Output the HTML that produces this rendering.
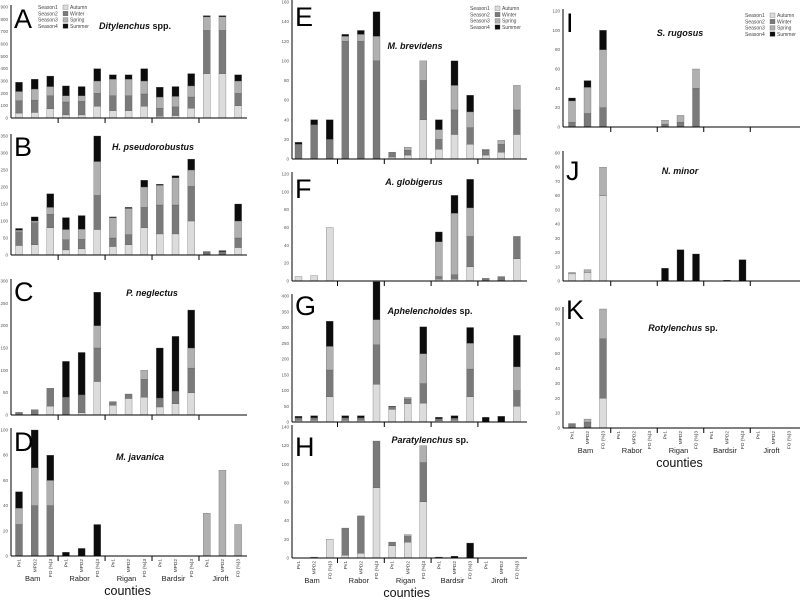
<!DOCTYPE html>
<html><head><meta charset="utf-8"><style>
html,body{margin:0;padding:0;background:#fff;}
svg{display:block;font-family:"Liberation Sans",sans-serif;}
</style></head><body>
<svg id="chart" width="800" height="600" viewBox="0 0 800 600"></svg>
<script>
// ---- data: each bar = [Autumn, Winter, Spring, Summer] ----
const counties = ["Bam","Rabor","Rigan","Bardsir","Jiroft"];
const barLabels = ["Pv1","MPD2","FO (%)3"];
const seasons = ["Autumn","Winter","Spring","Summer"];
const dataA = [[40,100,75,75],[45,100,90,80],[75,105,75,85],[25,105,50,80],[25,110,45,75],[95,105,100,100],[60,120,135,35],[60,120,135,35],[95,100,105,100],[15,65,90,80],[20,70,85,80],[80,90,90,100],[360,350,110,10],[360,350,110,10],[100,100,100,50]];
const dataB = [[28,40,5,5],[30,65,5,12],[80,40,20,40],[15,30,30,35],[18,28,30,40],[75,100,100,75],[25,25,60,2],[30,30,77,3],[80,60,60,20],[62,85,58,3],[62,85,80,6],[100,102,48,32],[0,6,2,2],[0,8,2,3],[22,28,50,50]];
const dataC = [[0,6,0,0],[0,12,0,0],[20,40,0,0],[0,40,0,80],[5,40,0,95],[75,75,50,75],[22,8,0,0],[37,10,0,0],[40,40,20,0],[18,20,0,112],[25,28,0,123],[50,55,45,85],[0,0,0,0],[0,0,0,0],[0,0,0,0]];
const dataD = [[0,25,13,13],[0,40,30,30],[0,40,20,20],[0,0,0,3],[0,0,0,6],[0,0,0,25],[0,0,0,0],[0,0,0,0],[0,0,0,0],[0,0,0,0],[0,0,0,0],[0,0,0,0],[0,0,34,0],[0,0,68,0],[0,0,25,0]];
const dataE = [[0,15,0,2],[0,35,0,5],[0,20,0,20],[0,120,5,2],[0,120,7,4],[0,100,25,25],[2,5,0,0],[4,5,3,0],[40,40,20,0],[10,10,10,10],[25,25,25,25],[15,17,16,17],[4,5,1,0],[7,8,4,0],[25,25,25,0]];
const dataF = [[5,0,0,0],[6,0,0,0],[60,0,0,0],[0,0,0,0],[0,0,0,0],[0,0,0,0],[0,0,0,0],[0,0,0,0],[0,0,0,0],[2,3,39,11],[2,5,69,20],[16,34,32,32],[0,3,0,0],[0,5,0,0],[25,25,0,0]];
const dataG = [[5,8,0,5],[5,8,0,7],[80,85,75,80],[5,8,0,7],[5,8,0,7],[120,125,80,120],[40,8,0,2],[58,15,5,0],[60,62,95,85],[4,6,0,5],[5,7,0,8],[80,88,82,50],[0,0,0,15],[0,0,0,18],[50,50,75,100]];
const dataH = [[0,0,0,0],[0,1,0,0],[20,0,0,0],[3,29,0,0],[5,40,0,0],[75,50,0,0],[13,4,0,0],[17,6,2,0],[60,42,18,0],[0,0,0,1],[0,0,0,2],[0,0,0,16],[0,0,0,0],[0,0,0,0],[0,0,0,0]];
const dataI = [[0,5,22,3],[0,14,27,7],[0,20,60,20],[0,0,0,0],[0,0,0,0],[0,0,0,0],[0,3,4,0],[0,5,7,0],[0,40,20,0],[0,0,0,0],[0,0,0,0],[0,0,0,0],[0,0,0,0],[0,0,0,0],[0,0,0,0]];
const dataJ = [[5,0,1,0],[6,0,2,0],[60,0,20,0],[0,0,0,0],[0,0,0,0],[0,0,0,0],[0,0,0,9],[0,0,0,22],[0,0,0,19],[0,0,0,0],[0,0,0,0.6],[0,0,0,15],[0,0,0,0],[0,0,0,0],[0,0,0,0]];
const dataK = [[0,3,0,0],[0,4,2,0],[20,40,20,0],[0,0,0,0],[0,0,0,0],[0,0,0,0],[0,0,0,0],[0,0,0,0],[0,0,0,0],[0,0,0,0],[0,0,0,0],[0,0,0,0],[0,0,0,0],[0,0,0,0],[0,0,0,0]];

const colors = ["#dcdcdc","#7a7a7a","#b0b0b0","#0c0c0c"];
const NS = "http://www.w3.org/2000/svg";
const svg = document.getElementById("chart");
function mk(tag, attrs, parent, text){
  const e = document.createElementNS(NS, tag);
  for (const k in attrs) e.setAttribute(k, attrs[k]);
  if (text !== undefined) e.textContent = text;
  (parent || svg).appendChild(e);
  return e;
}
const cols = {
  L:{ax:11, axEnd:247, first:19, step:15.65},
  M:{ax:292, axEnd:527, first:298.5, step:15.6},
  R:{ax:563, axEnd:800, first:572, step:15.5}
};
const panels = [
  {id:"a",letter:"A",col:"L",data:dataA,base:118,max:900,topY:7,tick:100,title:["Ditylenchus"," spp."],tx:135,ty:29,legend:[38,5],lx:14,ly:6},
  {id:"b",letter:"B",col:"L",data:dataB,base:255,max:350,topY:136,tick:50,title:["H. pseudorobustus",""],tx:153,ty:150,lx:14,ly:134},
  {id:"c",letter:"C",col:"L",data:dataC,base:415,max:300,topY:281,tick:50,title:["P. neglectus",""],tx:152,ty:296,lx:14,ly:279},
  {id:"d",letter:"D",col:"L",data:dataD,base:556,max:100,topY:430,tick:20,title:["M. javanica",""],tx:140,ty:460,lx:14,ly:429,xlab:true},
  {id:"e",letter:"E",col:"M",data:dataE,base:159,max:160,topY:2,tick:20,title:["M. brevidens",""],tx:415,ty:49,legend:[470,6],lx:295,ly:4},
  {id:"f",letter:"F",col:"M",data:dataF,base:281,max:120,topY:174,tick:20,title:["A. globigerus",""],tx:414,ty:185,lx:295,ly:176},
  {id:"g",letter:"G",col:"M",data:dataG,base:422,max:400,topY:296,tick:50,title:["Aphelenchoides"," sp."],tx:430,ty:314,lx:295,ly:293},
  {id:"h",letter:"H",col:"M",data:dataH,base:558,max:140,topY:427,tick:20,title:["Paratylenchus"," sp."],tx:430,ty:443,lx:295,ly:434,xlab:true},
  {id:"i",letter:"I",col:"R",data:dataI,base:127,max:120,topY:11,tick:20,title:["S. rugosus",""],tx:680,ty:36,legend:[745,13],lx:566,ly:10},
  {id:"j",letter:"J",col:"R",data:dataJ,base:281,max:90,topY:153,tick:10,title:["N. minor",""],tx:680,ty:174,lx:566,ly:158},
  {id:"k",letter:"K",col:"R",data:dataK,base:428,max:80,topY:309,tick:10,title:["Rotylenchus"," sp."],tx:683,ty:331,lx:566,ly:297,xlab:true}
];

panels.forEach(p=>{
  const c = cols[p.col];
  const g = mk("g",{});
  
  
  const ys = v => p.base - v*(p.base - p.topY)/p.max;
  const xs = i => c.first + i*c.step;
  // y ticks
  for (let v=0; v<=p.max+0.001; v+=p.tick){
    const t = mk("text",{x:c.ax-3,y:ys(v)+1.5,"font-size":4.5,"text-anchor":"end",fill:"#555"},g,String(v));
    
    
  }
  // bars
  p.data.forEach((bar,i)=>{
    let acc = 0;
    bar.forEach((v,s)=>{
      if (v<=0) return;
      const r = mk("rect",{x:xs(i)-3.5,y:ys(acc+v),width:7,height:ys(acc)-ys(acc+v),fill:colors[s],stroke:"#555","stroke-width":0.3},g);
      
      
      acc += v;
    });
  });
  // axes
  const ya = mk("line",{x1:c.ax,y1:p.topY-2,x2:c.ax,y2:p.base,stroke:"#000","stroke-width":1},g);
  
  
  const xa = mk("line",{x1:c.ax,y1:p.base,x2:c.axEnd,y2:p.base,stroke:"#000","stroke-width":1},g);
  
  
  for (let k=1;k<5;k++){
    const gx = xs(3*k-0.5);
    const tk = mk("line",{x1:gx,y1:p.base,x2:gx,y2:p.base+5,stroke:"#000","stroke-width":1},g);
    
    
  }
  // letter
  const L = mk("text",{x:p.lx,y:p.ly+22,"font-size":27,fill:"#000"},g,p.letter);
  
  
  // title
  const T = mk("text",{x:p.tx,y:p.ty,"font-size":9,"font-weight":"bold","text-anchor":"middle",fill:"#111"},g);
  
  
  mk("tspan",{"font-style":"italic"},T,p.title[0]);
  if (p.title[1]) mk("tspan",{},T,p.title[1]);
  // legend
  if (p.legend){
    const [lx,ly] = p.legend;
    seasons.forEach((s,si)=>{
      const y = ly + si*6.3;
      const t1 = mk("text",{x:lx,y:y+4,"font-size":5,fill:"#444"},g,"Season"+(si+1));
      
      
      const sw = mk("rect",{x:lx+25,y:y,width:5,height:4.5,fill:colors[si],stroke:"#555","stroke-width":0.3},g);
      
      
      const t2 = mk("text",{x:lx+32,y:y+4,"font-size":5,fill:"#444"},g,s);
      
      
    });
  }
  // x labels
  if (p.xlab){
    for (let i=0;i<15;i++){
      const lab = barLabels[i%3];
      const tx = mk("text",{x:0,y:0,"font-size":4.8,"text-anchor":"end",fill:"#333",transform:`translate(${xs(i)+1.6},${p.base+3}) rotate(-90)`},g,lab);
      
      
    }
    counties.forEach((cn,k)=>{
      const t = mk("text",{x:xs(3*k+1)-2,y:p.base+25,"font-size":7.5,"text-anchor":"middle",fill:"#222"},g,cn);
      
      
    });
    const ct = mk("text",{x:xs(7)-1,y:p.base+39,"font-size":12.5,"text-anchor":"middle",fill:"#111"},g,"counties");
    
    
  }
});
</script>
</body></html>
